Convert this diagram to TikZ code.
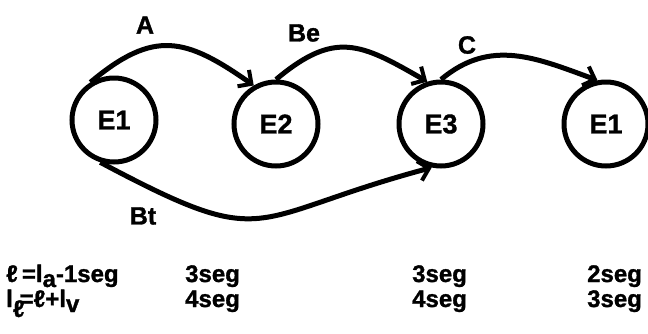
\documentclass[tikz,border=0pt]{standalone}
\usepackage{fontspec}
\setmainfont[BoldFeatures={FakeBold=1.2}]{Liberation Sans}
\usetikzlibrary{arrows.meta}
\begin{document}
\begin{tikzpicture}[x=1pt,y=-1pt,
  state/.style={circle,draw,line width=5pt,minimum size=84pt,inner sep=0pt,font=\fontsize{27}{30}\selectfont\bfseries},
  trans/.style={line width=5pt,-{Straight Barb[length=10pt,width=20pt,line width=4pt]}},
  lbl/.style={font=\fontsize{25}{28}\selectfont\bfseries,inner sep=0pt},
  txt/.style={font=\fontsize{24}{26}\selectfont\bfseries,inner sep=0pt,anchor=base west}]
\useasboundingbox (0,0) rectangle (648,333);
\node[state] (e1) at (114,120) {E1};
\node[state] (e2) at (276,124) {E2};
\node[state] (e3) at (441,124) {E3};
\node[state] (e4) at (606,124) {E1};
% transitions
\draw[trans] (e1.122) to[out=40,in=145,looseness=1.3] (e2.120);
\draw[trans] (e2.90) to[out=40,in=150,looseness=1.3] (e3.108);
\draw[trans] (e3.90) to[out=40,in=160,looseness=1.06] (e4.101);
\draw[trans] (e1.252) to[out=-28,in=195,looseness=1.5] (e3.258);
\node[lbl] (la) at (145,25) {A};
\node[lbl] (lbe) at (304,33) {Be};
\node[lbl] (lc) at (467,45) {C};
\node[lbl] (lbt) at (143,216) {Bt};
% timing rows
\node[txt] (r1) at (6,282) {ℓ\,=l\raisebox{-5pt}{a}-1seg};
\node[txt] (r2) at (6,307) {l\raisebox{-10pt}{ℓ}\kern-5pt=ℓ+l\raisebox{-5pt}{v}};
\node[txt] (a1) at (185,282) {3seg};
\node[txt] (a2) at (412,282) {3seg};
\node[txt] (a3) at (587,282) {2seg};
\node[txt] (b1) at (185,307) {4seg};
\node[txt] (b2) at (412,307) {4seg};
\node[txt] (b3) at (587,307) {3seg};
\end{tikzpicture}
\end{document}
